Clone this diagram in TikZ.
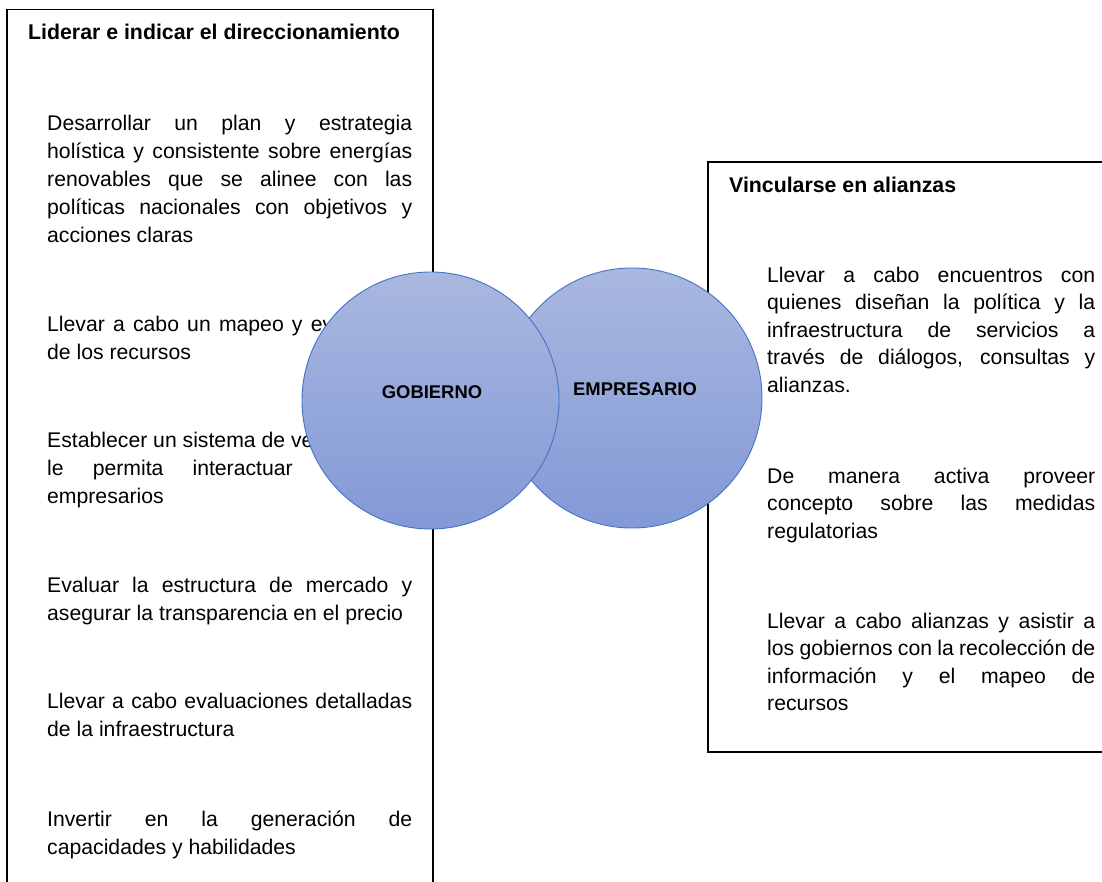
\documentclass[tikz,border=0pt]{standalone}
\usepackage{fontspec}
\setmainfont{Liberation Sans}
\definecolor{circborder}{HTML}{4472C4}
\definecolor{circtop}{HTML}{A9B8E0}
\definecolor{circbot}{HTML}{8399D6}
\newcommand\firststrut{\rule{0pt}{22pt}}
\newcommand\bodyfont{\fontsize{21.2}{28}\selectfont}
\newcommand\rbodyfont{\fontsize{21.2}{27.5}\selectfont}
\newcommand\titlefont{\fontsize{21.3}{25}\selectfont\bfseries}
\newcommand\circfont{\fontsize{18.4}{22}\selectfont\bfseries}
\tolerance=10000
\hbadness=10000
\hyphenpenalty=10000
\setlength{\parindent}{0pt}
\begin{document}
\begin{tikzpicture}[x=1pt,y=-1pt,
  boxline/.style={draw=black, line width=1.3pt},
  leftpara/.style={anchor=north west, inner sep=0pt, text width=365pt, align=justify, font=\bodyfont},
  rightpara/.style={anchor=north west, inner sep=0pt, text width=328pt, align=justify, font=\rbodyfont},
  heading/.style={anchor=base west, inner sep=0pt, font=\titlefont},
  venn/.style={circle, draw=circborder, line width=0.9pt, top color=circtop, bottom color=circbot, inner sep=0pt},
  venntext/.style={font=\circfont, inner sep=0pt}]
\useasboundingbox (0,0) rectangle (1102,882);
\fill[white] (0,0) rectangle (1102,882);

% boxes
\draw[boxline] (7,9.5) rectangle (433,895);
\draw[boxline] (708,162) rectangle (1115,752);

% left box
\node[heading] (ltitle) at (28,40) {Liderar e indicar el direccionamiento};
\node[leftpara] (lp1) at (47,108) {\firststrut Desarrollar un plan y estrategia\linebreak holística y consistente sobre energías\linebreak renovables que se alinee con las\linebreak políticas nacionales con objetivos y\linebreak acciones claras};
\node[leftpara] (lp2) at (47,309) {\firststrut Llevar a cabo un mapeo y ev\hphantom{aluación}\linebreak de los recursos};
\node[leftpara] (lp3) at (47,425) {\firststrut Establecer un sistema de ve\hspace*{\fill}\linebreak le permita interactuar \hphantom{con} \hphantom{los}\linebreak empresarios};
\node[leftpara] (lp4) at (47,570) {\firststrut Evaluar la estructura de mercado y\linebreak asegurar la transparencia en el precio};
\node[leftpara] (lp5) at (47,686) {\firststrut Llevar a cabo evaluaciones detalladas\linebreak de la infraestructura};
\node[leftpara] (lp6) at (47,804) {\firststrut Invertir en la generación de\linebreak capacidades y habilidades};

% right box
\node[heading] (rtitle) at (729,193) {Vincularse en alianzas};
\node[rightpara] (rp1) at (767,260) {\firststrut Llevar a cabo encuentros con\linebreak quienes diseñan la política y la\linebreak infraestructura de servicios a\linebreak través de diálogos, consultas y\linebreak alianzas.};
\node[rightpara] (rp2) at (767,461) {\firststrut De manera activa proveer\linebreak concepto sobre las medidas\linebreak regulatorias};
\node[rightpara] (rp3) at (767,606) {\firststrut Llevar a cabo alianzas y asistir a\linebreak los gobiernos con la recolección de\linebreak información y el mapeo de\linebreak recursos};

% circles
\node[venn, minimum size=260pt] (emp) at (632,398) {};
\node[venn, minimum size=257pt] (gob) at (430.5,400.5) {};
\node[venntext] (emptxt) at (635,389) {EMPRESARIO};
\node[venntext] (gobtxt) at (432,392) {GOBIERNO};
\end{tikzpicture}
\end{document}
